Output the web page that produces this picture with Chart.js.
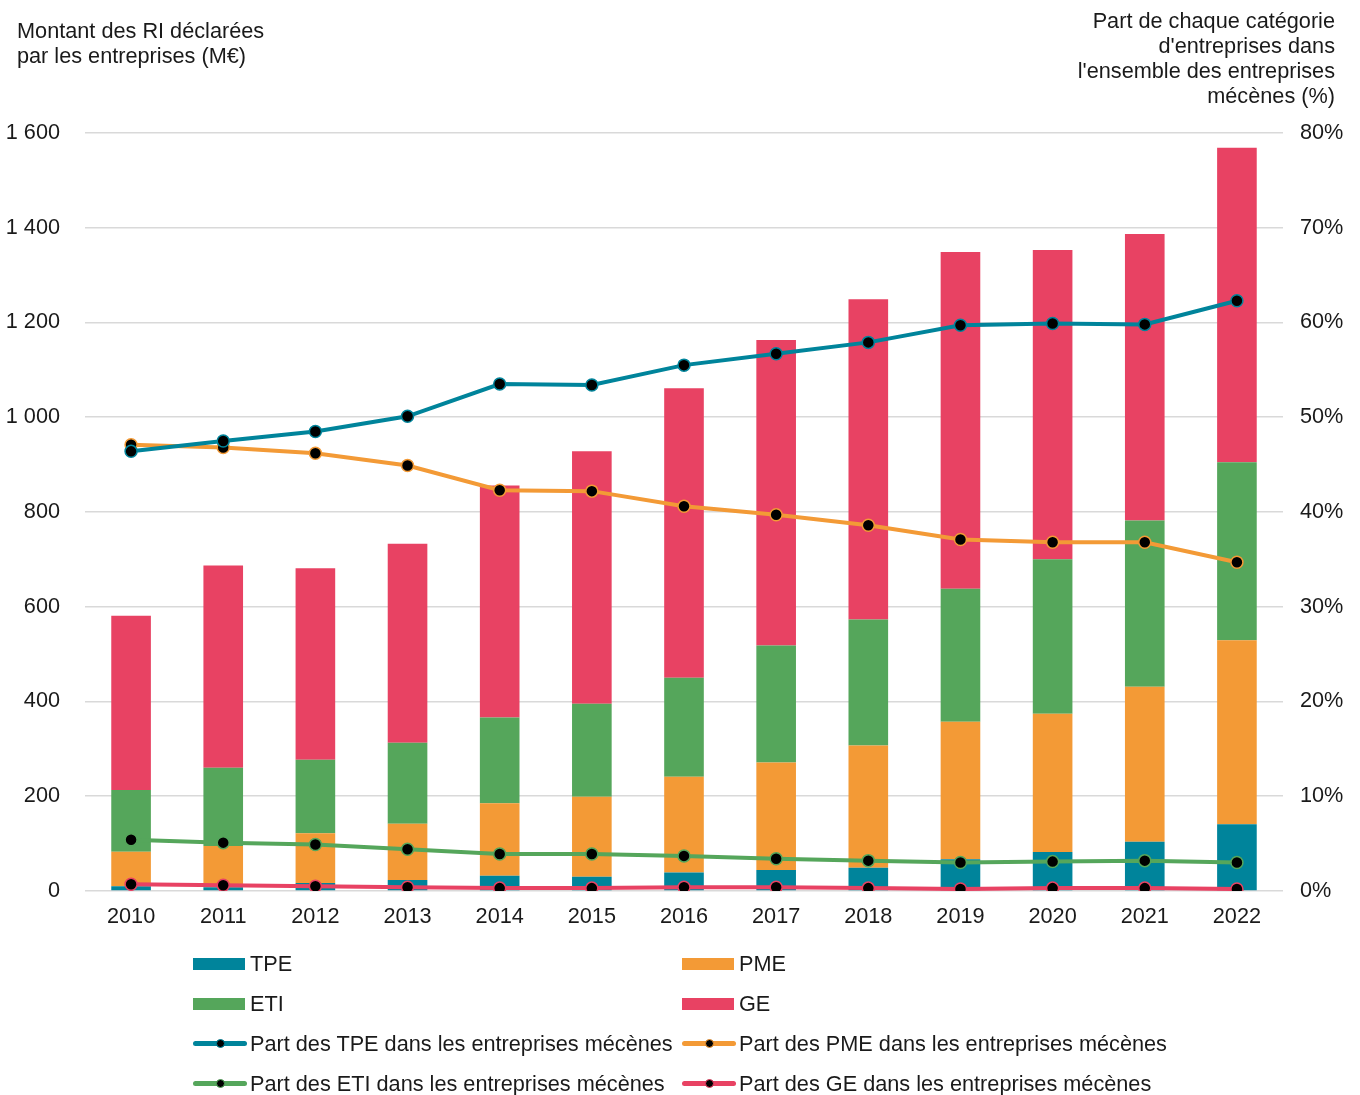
<!DOCTYPE html>
<html lang="fr">
<head>
<meta charset="utf-8">
<script src="https://cdn.jsdelivr.net/npm/chart.js@4.4.1/dist/chart.umd.min.js"></script>
<style>
  html, body { margin: 0; padding: 0; background: #fff; }
  body { width: 1360px; height: 1095px; position: relative; overflow: hidden;
         font-family: "Liberation Sans", Arial, sans-serif; color: #1a1a1a; }
  #wrap { position: absolute; left: 0; top: 0; width: 1360px; height: 1095px; }
  .title { position: absolute; font-size: 21.7px; line-height: 25px; }
  #titleLeft { left: 17px; top: 18px; }
  #titleRight { right: 25px; top: 8px; text-align: right; }
  #legend { position: absolute; left: 193px; top: 950px; font-size: 21.7px; }
  .item { position: absolute; white-space: nowrap; height: 28px; line-height: 28px; }
  .box { position: absolute; left: 0; top: 8px; width: 52px; height: 12px; }
  .line { position: absolute; left: 0; top: 11px; width: 54px; height: 5px; border-radius: 3px; }
  .dot { position: absolute; left: 23px; top: 9px; width: 9px; height: 9px; border-radius: 50%;
         background: #000; box-sizing: border-box; }
  .lbl { position: absolute; left: 57px; top: 0; }
</style>
</head>
<body>
<div id="wrap"><canvas id="canvas" width="1360" height="1095"></canvas></div>
<div class="title" id="titleLeft">Montant des RI déclarées<br>par les entreprises (M€)</div>
<div class="title" id="titleRight">Part de chaque catégorie<br>d'entreprises dans<br>l'ensemble des entreprises<br>mécènes (%)</div>
<div id="legend"></div>
<script>
const years = ["2010", "2011", "2012", "2013", "2014", "2015", "2016", "2017", "2018", "2019", "2020", "2021", "2022"];

// montants (M€), empilés
const tpeAmount = [10, 8, 17, 23, 32, 30, 39, 44, 49, 67, 82, 104, 141];
const pmeAmount = [73, 87, 105, 119, 153, 169, 202, 227, 258, 290, 292, 327, 388];
const etiAmount = [130, 165, 155, 171, 181, 196, 209, 247, 266, 281, 326, 351, 376];
const geAmount = [368, 427, 404, 420, 490, 533, 611, 645, 676, 711, 653, 605, 664];

// parts dans les entreprises mécènes (%)
const tpeShare = [46.4, 47.5, 48.5, 50.1, 53.5, 53.4, 55.5, 56.7, 57.9, 59.7, 59.9, 59.8, 62.3];
const pmeShare = [47.1, 46.8, 46.2, 44.9, 42.3, 42.2, 40.6, 39.7, 38.6, 37.1, 36.8, 36.8, 34.7];
const etiShare = [5.4, 5.1, 4.9, 4.4, 3.9, 3.9, 3.7, 3.4, 3.2, 3.0, 3.1, 3.2, 3.0];
const geShare = [0.7, 0.6, 0.5, 0.4, 0.3, 0.3, 0.4, 0.4, 0.3, 0.2, 0.3, 0.3, 0.2];

const leftTicks = [0, 200, 400, 600, 800, 1000, 1200, 1400, 1600];
const rightTicks = [0, 10, 20, 30, 40, 50, 60, 70, 80];

const TEAL = "#00849b", ORANGE = "#f39a36", GREEN = "#55a65b", RED = "#e84263";
const FONT = { family: "'Liberation Sans', Arial, sans-serif", size: 21.7 };

function barSet(label, data, color) {
    return { type: 'bar', label: label, data: data, backgroundColor: color,
             yAxisID: 'y', stack: 'montants', order: 2,
             barPercentage: 0.86, categoryPercentage: 0.5 };
}
function lineSet(label, data, color) {
    return { type: 'line', label: label, data: data, borderColor: color, borderWidth: 4,
             pointRadius: 6, pointBorderWidth: 1.5, pointBackgroundColor: "#000",
             pointBorderColor: color, yAxisID: 'y1', order: 1, tension: 0 };
}

const myChartConfig = {
    data: {
        labels: years,
        datasets: [
            barSet("TPE", tpeAmount, TEAL),
            barSet("PME", pmeAmount, ORANGE),
            barSet("ETI", etiAmount, GREEN),
            barSet("GE", geAmount, RED),
            lineSet("Part des TPE dans les entreprises mécènes", tpeShare, TEAL),
            lineSet("Part des PME dans les entreprises mécènes", pmeShare, ORANGE),
            lineSet("Part des ETI dans les entreprises mécènes", etiShare, GREEN),
            lineSet("Part des GE dans les entreprises mécènes", geShare, RED)
        ]
    },
    options: {
        responsive: false,
        animation: false,
        layout: { padding: { left: 0, right: 0, top: 133, bottom: 160 } },
        scales: {
            x: {
                stacked: true,
                grid: { display: false },
                border: { display: false },
                ticks: { font: FONT, color: "#1a1a1a", padding: 5, maxRotation: 0 }
            },
            y: {
                stacked: true, position: 'left', min: 0, max: 1600,
                afterBuildTicks: s => { s.ticks = leftTicks.map(v => ({ value: v })); },
                afterFit: s => { s.width = 85; },
                grid: { color: "#d9d9d9", lineWidth: 1.5, drawTicks: false },
                border: { display: false },
                ticks: {
                    font: FONT, color: "#1a1a1a", padding: 25,
                    callback: v => String(v).replace(/\B(?=(\d{3})+(?!\d))/g, " ")
                }
            },
            y1: {
                position: 'right', min: 0, max: 80,
                afterBuildTicks: s => { s.ticks = rightTicks.map(v => ({ value: v })); },
                afterFit: s => { s.width = 77; },
                grid: { display: false, drawTicks: false },
                border: { display: false },
                ticks: { font: FONT, color: "#1a1a1a", padding: 17, callback: v => v + "%" }
            }
        },
        plugins: {
            legend: { display: false },
            tooltip: { enabled: false }
        }
    }
};

const myChart = new Chart(document.getElementById("canvas").getContext("2d"), myChartConfig);

// légende en deux colonnes
const legend = document.getElementById("legend");
const colX = [0, 489];
myChart.data.datasets.forEach((ds, i) => {
    const item = document.createElement("div");
    item.className = "item";
    item.style.left = colX[i % 2] + "px";
    item.style.top = (Math.floor(i / 2) * 40) + "px";
    if (ds.type === 'bar') {
        item.innerHTML = '<span class="box" style="background:' + ds.backgroundColor + '"></span>';
    } else {
        item.innerHTML = '<span class="line" style="background:' + ds.borderColor + '"></span>' +
                         '<span class="dot" style="border:1.5px solid ' + ds.borderColor + '"></span>';
    }
    const lbl = document.createElement("span");
    lbl.className = "lbl";
    lbl.textContent = ds.label;
    item.appendChild(lbl);
    legend.appendChild(item);
});
</script>
</body>
</html>
